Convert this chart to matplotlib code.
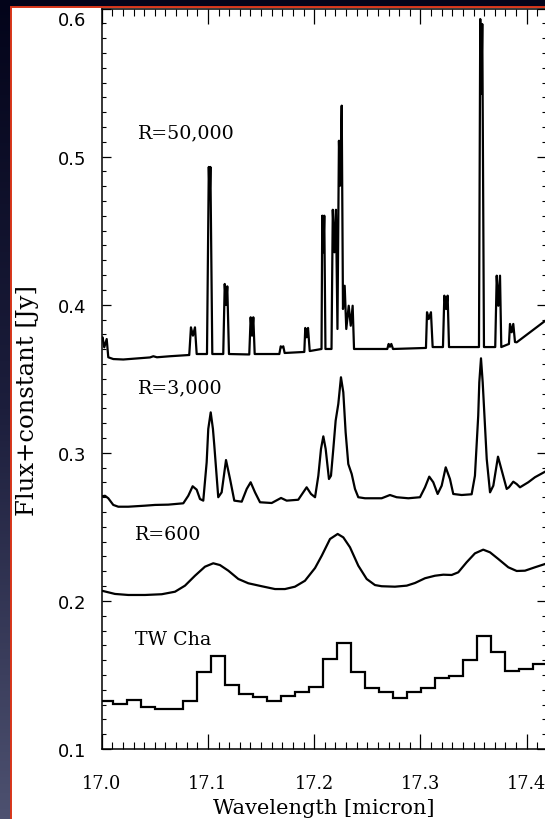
import matplotlib
matplotlib.use("Agg")
import matplotlib.pyplot as plt
import numpy as np
import matplotlib.transforms as mtransforms
from matplotlib.ticker import MultipleLocator
from matplotlib.patches import Rectangle
from matplotlib.colors import LinearSegmentedColormap

# ---------------- data (wavelength in micron, flux+constant in Jy) ----------------
spec_r50000 = [
    (17.0000, 0.3768), (17.0008, 0.3780), (17.0024, 0.3712), (17.0047, 0.3768), (17.0062, 0.3645),
    (17.0109, 0.3633), (17.0203, 0.3630), (17.0455, 0.3644), (17.0486, 0.3652), (17.0520, 0.3645),
    (17.0643, 0.3652), (17.0815, 0.3660), (17.0824, 0.3660), (17.0840, 0.3847), (17.0859, 0.3791),
    (17.0878, 0.3847), (17.0894, 0.3667), (17.0991, 0.3667), (17.1008, 0.4930), (17.1016, 0.4714),
    (17.1023, 0.4930), (17.1041, 0.3667), (17.1144, 0.3667), (17.1158, 0.4140), (17.1170, 0.3998),
    (17.1182, 0.4124), (17.1198, 0.3667), (17.1389, 0.3664), (17.1402, 0.3915), (17.1415, 0.3791),
    (17.1427, 0.3915), (17.1440, 0.3667), (17.1672, 0.3667), (17.1685, 0.3719), (17.1697, 0.3712),
    (17.1709, 0.3719), (17.1722, 0.3674), (17.1907, 0.3681), (17.1916, 0.3843), (17.1929, 0.3780),
    (17.1942, 0.3843), (17.1958, 0.3687), (17.2069, 0.3701), (17.2076, 0.4601), (17.2086, 0.4354),
    (17.2095, 0.4601), (17.2106, 0.3701), (17.2163, 0.3701), (17.2175, 0.4641), (17.2191, 0.4354),
    (17.2205, 0.4641), (17.2219, 0.3836), (17.2233, 0.5107), (17.2245, 0.4804), (17.2259, 0.5344),
    (17.2271, 0.3971), (17.2287, 0.4128), (17.2302, 0.3836), (17.2325, 0.3993), (17.2344, 0.3858),
    (17.2362, 0.3993), (17.2375, 0.3701), (17.2688, 0.3701), (17.2701, 0.3735), (17.2713, 0.3716),
    (17.2726, 0.3735), (17.2742, 0.3701), (17.3052, 0.3708), (17.3062, 0.3949), (17.3078, 0.3903),
    (17.3099, 0.3949), (17.3115, 0.3714), (17.3212, 0.3714), (17.3225, 0.4061), (17.3241, 0.3971),
    (17.3256, 0.4061), (17.3269, 0.3714), (17.3551, 0.3714), (17.3563, 0.5929), (17.3573, 0.5423),
    (17.3582, 0.5895), (17.3598, 0.3714), (17.3704, 0.3714), (17.3718, 0.4196), (17.3733, 0.3993),
    (17.3749, 0.4196), (17.3761, 0.3714), (17.3833, 0.3735), (17.3843, 0.3870), (17.3859, 0.3814),
    (17.3874, 0.3870), (17.3890, 0.3748), (17.3906, 0.3746), (17.4172, 0.3890),
]

spec_r3000 = [
    (17.0000, 0.2706), (17.0031, 0.2710), (17.0062, 0.2693), (17.0109, 0.2648), (17.0156, 0.2636),
    (17.0250, 0.2636), (17.0408, 0.2643), (17.0502, 0.2648), (17.0627, 0.2650), (17.0768, 0.2659),
    (17.0815, 0.2710), (17.0856, 0.2774), (17.0894, 0.2751), (17.0925, 0.2688), (17.0956, 0.2677),
    (17.0988, 0.2936), (17.1003, 0.3161), (17.1026, 0.3273), (17.1047, 0.3161), (17.1060, 0.3048),
    (17.1097, 0.2700), (17.1129, 0.2733), (17.1170, 0.2951), (17.1208, 0.2823), (17.1248, 0.2677),
    (17.1318, 0.2670), (17.1365, 0.2756), (17.1402, 0.2801), (17.1443, 0.2733), (17.1490, 0.2666),
    (17.1600, 0.2661), (17.1688, 0.2695), (17.1741, 0.2677), (17.1850, 0.2683), (17.1897, 0.2733),
    (17.1929, 0.2767), (17.1970, 0.2722), (17.2008, 0.2700), (17.2039, 0.2845), (17.2064, 0.3026),
    (17.2086, 0.3111), (17.2108, 0.3026), (17.2139, 0.2823), (17.2158, 0.2845), (17.2180, 0.3026),
    (17.2202, 0.3217), (17.2227, 0.3330), (17.2252, 0.3510), (17.2274, 0.3409), (17.2296, 0.3138),
    (17.2321, 0.2924), (17.2353, 0.2857), (17.2384, 0.2756), (17.2415, 0.2700), (17.2478, 0.2693),
    (17.2635, 0.2693), (17.2713, 0.2715), (17.2776, 0.2700), (17.2886, 0.2693), (17.2996, 0.2700),
    (17.3043, 0.2767), (17.3083, 0.2839), (17.3121, 0.2801), (17.3162, 0.2722), (17.3200, 0.2778),
    (17.3238, 0.2902), (17.3278, 0.2823), (17.3309, 0.2722), (17.3388, 0.2715), (17.3482, 0.2720),
    (17.3513, 0.2845), (17.3544, 0.3251), (17.3554, 0.3476), (17.3570, 0.3638), (17.3586, 0.3476),
    (17.3624, 0.2958), (17.3655, 0.2733), (17.3686, 0.2778), (17.3730, 0.2974), (17.3770, 0.2868),
    (17.3812, 0.2756), (17.3833, 0.2767), (17.3874, 0.2805), (17.3906, 0.2789), (17.3937, 0.2767),
    (17.4015, 0.2801), (17.4078, 0.2835), (17.4172, 0.2872),
]

spec_r600 = [
    (17.0000, 0.2069), (17.0125, 0.2047), (17.0250, 0.2040), (17.0408, 0.2040), (17.0565, 0.2045),
    (17.0690, 0.2062), (17.0784, 0.2103), (17.0878, 0.2170), (17.0972, 0.2231), (17.1050, 0.2254),
    (17.1113, 0.2242), (17.1192, 0.2204), (17.1286, 0.2148), (17.1380, 0.2119), (17.1506, 0.2099),
    (17.1631, 0.2080), (17.1725, 0.2080), (17.1819, 0.2096), (17.1913, 0.2136), (17.2008, 0.2222),
    (17.2071, 0.2305), (17.2149, 0.2418), (17.2221, 0.2452), (17.2274, 0.2429), (17.2337, 0.2362),
    (17.2415, 0.2238), (17.2494, 0.2148), (17.2572, 0.2107), (17.2635, 0.2099), (17.2760, 0.2096),
    (17.2871, 0.2103), (17.2949, 0.2121), (17.3043, 0.2153), (17.3137, 0.2170), (17.3215, 0.2177),
    (17.3294, 0.2175), (17.3356, 0.2193), (17.3435, 0.2261), (17.3513, 0.2321), (17.3591, 0.2346),
    (17.3655, 0.2328), (17.3733, 0.2283), (17.3827, 0.2227), (17.3906, 0.2202), (17.3984, 0.2204),
    (17.4078, 0.2227), (17.4172, 0.2249),
]

twcha_wl = [17.0043, 17.0175, 17.0307, 17.0439, 17.0570, 17.0702, 17.0834, 17.0966, 17.1097, 17.1229,
            17.1361, 17.1493, 17.1624, 17.1756, 17.1888, 17.2020, 17.2152, 17.2283, 17.2415, 17.2547,
            17.2679, 17.2810, 17.2942, 17.3074, 17.3206, 17.3337, 17.3469, 17.3601, 17.3733, 17.3864,
            17.3996, 17.4128]
twcha_flux = [0.1321, 0.1304, 0.1333, 0.1284, 0.1270, 0.1273, 0.1326, 0.1523, 0.1630, 0.1433,
              0.1371, 0.1353, 0.1326, 0.1356, 0.1383, 0.1421, 0.1608, 0.1716, 0.1518, 0.1412,
              0.1383, 0.1342, 0.1383, 0.1412, 0.1479, 0.1491, 0.1601, 0.1763, 0.1655, 0.1529,
              0.1540, 0.1571]

series_labels = ["R=50,000", "R=3,000", "R=600", "TW Cha"]
x_ticks = [17.0, 17.1, 17.2, 17.3, 17.4]
x_ticklabels = ["17.0", "17.1", "17.2", "17.3", "17.4"]
y_ticks = [0.1, 0.2, 0.3, 0.4, 0.5, 0.6]
y_ticklabels = ["0.1", "0.2", "0.3", "0.4", "0.5", "0.6"]

# ---------------- figure & slide background ----------------
W, H = 545, 820
fig = plt.figure(figsize=(W / 100, H / 100), dpi=100)
fig.patch.set_facecolor("#07081c")

bg = fig.add_axes([0, 0, 1, 1], zorder=-10)
grad = np.linspace(0, 1, 256).reshape(-1, 1)
cmap = LinearSegmentedColormap.from_list("slide", ["#03041a", "#1c1e3c", "#4d5170"])
bg.imshow(grad, aspect="auto", cmap=cmap, extent=[0, 1, 0, 1], origin="upper")
bg.set_xlim(0, 1)
bg.set_ylim(0, 1)
bg.axis("off")
bg.add_patch(Rectangle((10.5 / W, -0.01), 1.0, (H - 7.5) / H + 0.01,
                       facecolor="white", edgecolor="#d8361a", linewidth=1.4,
                       transform=bg.transAxes))

# ---------------- main plot ----------------
ax_left, ax_bottom = 101.7 / W, 70.0 / H
ax_w = 444.1
ax = fig.add_axes([ax_left, ax_bottom, ax_w / W, 740.5 / H])
ax.set_facecolor("none")

wl, fl = zip(*spec_r50000)
ax.plot(wl, fl, color="black", lw=1.6)
wl, fl = zip(*spec_r3000)
ax.plot(wl, fl, color="black", lw=1.6)
wl, fl = zip(*spec_r600)
ax.plot(wl, fl, color="black", lw=1.6)

c = np.array(twcha_wl)
half = (c[1] - c[0]) / 2
edges = np.concatenate([[c[0] - half], (c[:-1] + c[1:]) / 2, [c[-1] + half]])
ax.stairs(twcha_flux, edges, baseline=None, color="black", lw=1.6)

ax.set_xlim(17.0, 17.418)
ax.set_ylim(0.1, 0.6)

label_pos = [(17.0333, 0.5166), (17.0329, 0.3444), (17.0307, 0.2452), (17.0313, 0.1743)]
for (lx, ly), txt in zip(label_pos, series_labels):
    ax.text(lx, ly, txt, family="DejaVu Serif", fontsize=13.7, ha="left", va="center")

ax.set_xticks(x_ticks)
ax.set_xticklabels(x_ticklabels, family="DejaVu Serif", fontsize=12.8)
ax.set_yticks(y_ticks)
ax.set_yticklabels(y_ticklabels, family="DejaVu Sans", fontsize=13)
ax.xaxis.set_minor_locator(MultipleLocator(0.01))
ax.yaxis.set_minor_locator(MultipleLocator(0.01))

ax.tick_params(axis="x", which="major", direction="in", top=True, bottom=True,
               length=10.5, width=0.9, pad=18)
ax.tick_params(axis="x", which="minor", direction="in", top=True, bottom=True,
               length=4.8, width=0.8)
ax.tick_params(axis="y", which="major", direction="in", left=True, right=True,
               length=6.5, width=0.9, pad=11)
ax.tick_params(axis="y", which="minor", direction="in", left=True, right=True,
               length=3.2, width=0.8)
for s in ax.spines.values():
    s.set_linewidth(1.1)

# top y label sits a bit lower in the reference
top_lab = ax.yaxis.get_major_ticks()[-1].label1
top_lab.set_transform(top_lab.get_transform() +
                      mtransforms.ScaledTranslation(0, -9 / 100, fig.dpi_scale_trans))

ax.set_xlabel("Wavelength [micron]", family="DejaVu Serif", fontsize=15, labelpad=4)
ax.set_ylabel("Flux+constant [Jy]", family="DejaVu Serif", fontsize=17.5)
ax.yaxis.set_label_coords(-(101.7 - 39) / ax_w, (750 - 400) / 740.5)

fig.savefig("out.png", dpi=100, facecolor=fig.get_facecolor())
